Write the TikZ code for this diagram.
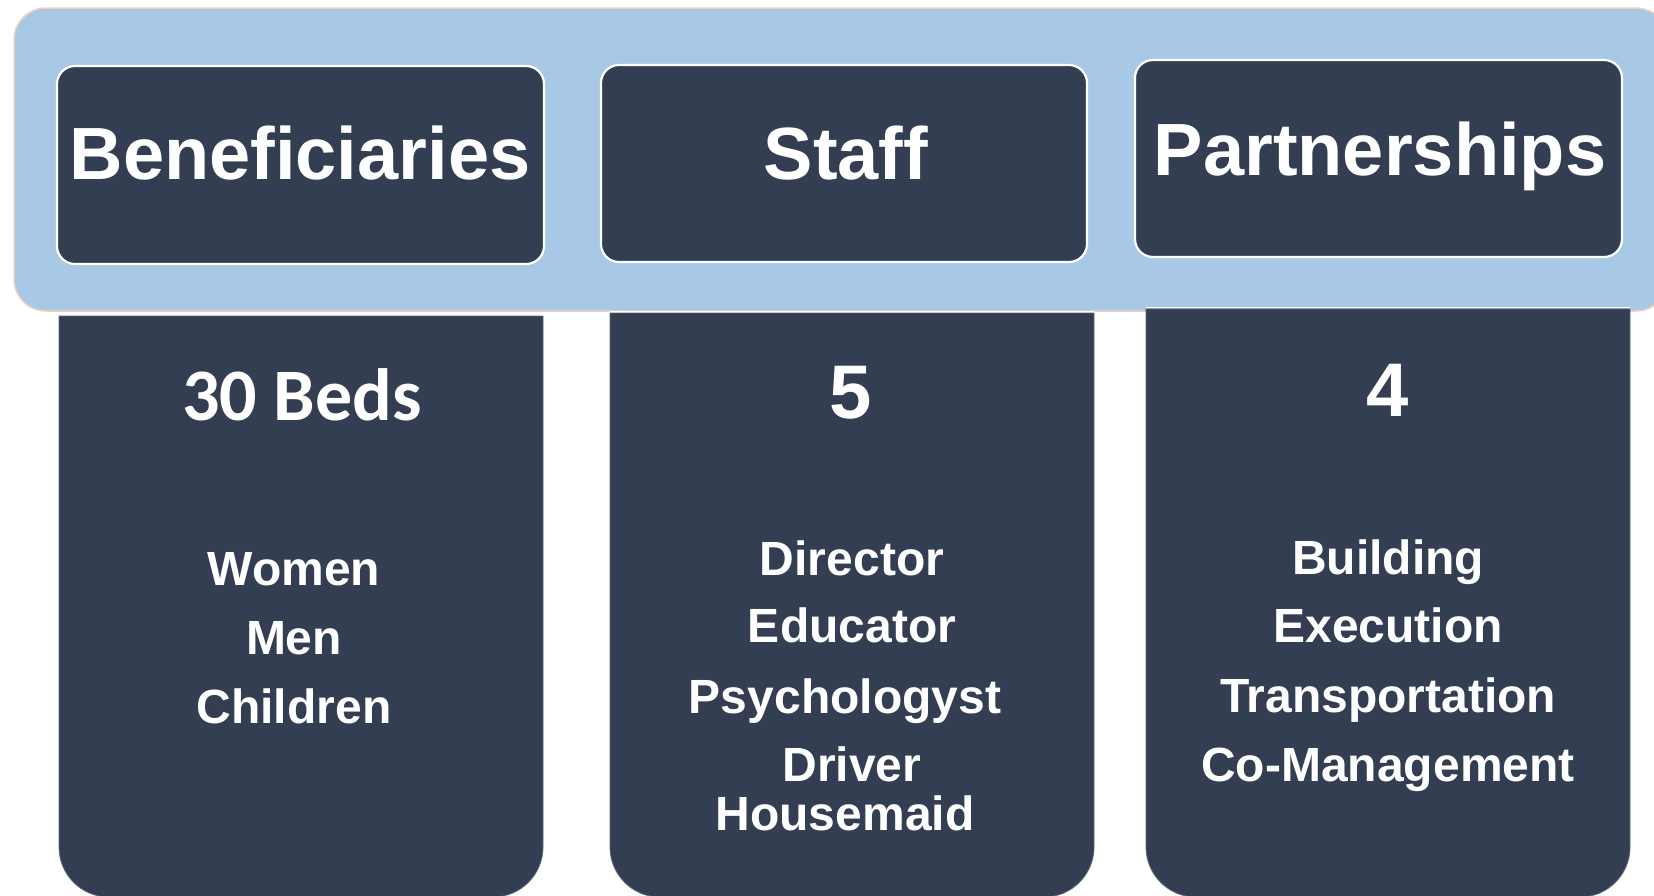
\documentclass[tikz,border=0pt]{standalone}
\usepackage{fontspec}
\setmainfont{Liberation Sans}
\newfontfamily\carlito{Carlito}
\definecolor{band}{HTML}{A7C9E6}
\definecolor{bandline}{HTML}{F2CFC4}
\definecolor{dark}{HTML}{343E52}
\begin{document}
\begin{tikzpicture}[x=1pt,y=-1pt,
  topbox/.style={fill=dark,draw=white,line width=2.2pt,rounded corners=18pt},
  title/.style={anchor=base,inner sep=0pt,text=white,font=\bfseries\fontsize{74}{74}\selectfont},
  bignum/.style={anchor=base,inner sep=0pt,text=white,font=\bfseries\fontsize{76}{76}\selectfont},
  beds/.style={anchor=base,inner sep=0pt,text=white,font=\carlito\bfseries\fontsize{74}{74}\selectfont},
  item/.style={anchor=base,inner sep=0pt,text=white,font=\bfseries\fontsize{48}{48}\selectfont},
  colbox/.style={fill=dark,draw=dark!80!white,line width=0.8pt}]
\useasboundingbox (0,0) rectangle (1654,895);
% band
\draw[fill=band,draw=bandline,line width=1.5pt,rounded corners=32pt] (14,8) rectangle (1668,311);
% top boxes
\draw[topbox] (57,66) rectangle (544,264);
\draw[topbox] (601,65) rectangle (1087,262);
\draw[topbox] (1135,60) rectangle (1622,257);
\node[title] (tben) at (300,179) {Beneficiaries};
\node[title] (tstaff) at (846,179) {Staff};
\node[title] (tpart) at (1380,175) {Partnerships};
% bottom boxes
\draw[colbox] (59,316) [rounded corners=50pt] -- (59,897) -- (543,897) [sharp corners] -- (543,316) -- cycle;
\draw[colbox] (610,313) [rounded corners=50pt] -- (610,897) -- (1094,897) [sharp corners] -- (1094,313) -- cycle;
\draw[colbox] (1146,309) [rounded corners=50pt] -- (1146,897) -- (1630,897) [sharp corners] -- (1630,309) -- cycle;
\draw[white,line width=1.2pt] (59,314.5) -- (543,314.5);
\draw[white,line width=1.2pt] (610,311.5) -- (1094,311.5);
\draw[white,line width=1.2pt] (1146,307.5) -- (1630,307.5);
% numbers
\node[beds] (nben) at (302,420) {30 Beds};
\node[bignum] (nstaff) at (851,418) {5};
\node[bignum] (npart) at (1388,416) {4};
% beneficiaries list
\node[item] (w) at (294,585) {Women};
\node[item] (m) at (294,654) {Men};
\node[item] (c) at (294,723) {Children};
% staff list
\node[item] (s1) at (852,575) {Director};
\node[item] (s2) at (852,642) {Educator};
\node[item] (s3) at (845,713) {Psychologyst};
\node[item] (s4) at (852,781) {Driver};
\node[item] (s5) at (845,830) {Housemaid};
% partnerships list
\node[item] (p1) at (1388,574) {Building};
\node[item] (p2) at (1388,642) {Execution};
\node[item] (p3) at (1388,712) {Transportation};
\node[item] (p4) at (1388,781) {Co-Management};
\end{tikzpicture}
\end{document}
